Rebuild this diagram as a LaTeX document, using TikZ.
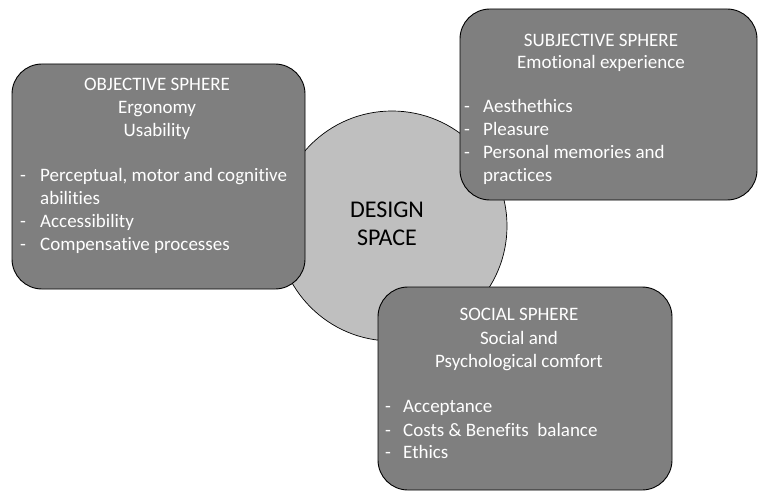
\documentclass[tikz,border=0pt]{standalone}
\usepackage{fontspec}
\setmainfont[Ligatures=NoCommon]{Carlito}
\definecolor{boxgray}{RGB}{127,127,127}
\definecolor{circgray}{RGB}{191,191,191}
\tikzset{
  sphere/.style={draw=black, line width=0.9pt, fill=boxgray, rounded corners=30pt},
  ttl/.style={anchor=base, text=white, font=\fontsize{19}{22}\selectfont, inner sep=0pt},
  itm/.style={anchor=base west, text=white, font=\fontsize{19}{22}\selectfont, inner sep=0pt},
  dsh/.style={anchor=base west, text=white, font=\fontsize{19}{22}\selectfont, inner sep=0pt},
  core/.style={draw=black, line width=0.7pt, fill=circgray, circle, minimum size=230pt, inner sep=0pt},
  coretxt/.style={anchor=base, text=black, font=\fontsize{24}{28}\selectfont, inner sep=0pt}
}
\begin{document}
\begin{tikzpicture}[x=1pt,y=-1pt]
\useasboundingbox (0,0) rectangle (758,492);
% design space circle
\node[core] (ds) at (392,226) {};
\node[coretxt] (ds1) at (387,218) {DESIGN};
\node[coretxt] (ds2) at (387,245) {SPACE};
% objective sphere
\draw[sphere] (12,64) rectangle (305,289);
\node[ttl] (o1) at (157,91) {OBJECTIVE SPHERE};
\node[ttl] (o2) at (157,113.7) {Ergonomy};
\node[ttl] (o3) at (157,136.4) {Usability};
\node[dsh] (od1) at (20,181.8) {-};
\node[itm] (o4) at (40,181.8) {Perceptual, motor and cognitive};
\node[itm] (o5) at (40,204.5) {abilities};
\node[dsh] (od2) at (20,227.2) {-};
\node[itm] (o6) at (40,227.2) {Accessibility};
\node[dsh] (od3) at (20,250) {-};
\node[itm] (o7) at (40,250) {Compensative processes};
% subjective sphere
\draw[sphere] (460,9) rectangle (757,200);
\node[ttl] (s1) at (601,47) {SUBJECTIVE SPHERE};
\node[ttl] (s2) at (601,69) {Emotional experience};
\node[dsh] (sd1) at (464,113) {-};
\node[itm] (s3) at (483,113) {Aesthethics};
\node[dsh] (sd2) at (464,136) {-};
\node[itm] (s4) at (483,136) {Pleasure};
\node[dsh] (sd3) at (464,159) {-};
\node[itm] (s5) at (483,159) {Personal memories and};
\node[itm] (s6) at (483,182) {practices};
% social sphere
\draw[sphere] (378,287) rectangle (672,490);
\node[ttl] (c1) at (519,320) {SOCIAL SPHERE};
\node[ttl] (c2) at (519,344) {Social and};
\node[ttl] (c3) at (519,367) {Psychological comfort};
\node[dsh] (cd1) at (385,412) {-};
\node[itm] (c4) at (403,412) {Acceptance};
\node[dsh] (cd2) at (385,436) {-};
\node[itm] (c5) at (403,436) {Costs \& Benefits\ \ balance};
\node[dsh] (cd3) at (385,458) {-};
\node[itm] (c6) at (403,458) {Ethics};
\end{tikzpicture}
\end{document}
